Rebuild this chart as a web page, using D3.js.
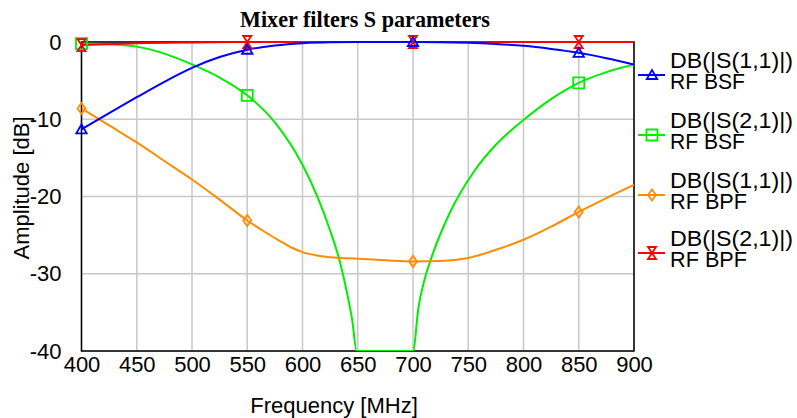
<!DOCTYPE html>
<html>
<head>
<meta charset="utf-8">
<script src="https://cdn.jsdelivr.net/npm/d3@7"></script>
<style>
  html, body { margin: 0; padding: 0; background: #fff; }
  svg { display: block; }
  text { font-family: "Liberation Sans", Arial, sans-serif; fill: #000; }
</style>
</head>
<body>
<svg id="chart" width="797" height="418"></svg>
<script>
// ---------- data ----------
const title = "Mixer filters S parameters";
const xLabel = "Frequency [MHz]";
const yLabel = "Amplitude [dB]";
const xTicks = [400, 450, 500, 550, 600, 650, 700, 750, 800, 850, 900];
const yTicks = [0, -10, -20, -30, -40];

const s11BsfFreq = [400, 425, 450, 475, 500, 525, 550, 575, 600, 625, 650, 700, 750, 775, 800, 825, 850, 875, 900];
const s11BsfDb   = [-11.3, -9.2, -7.15, -5.15, -3.35, -1.95, -1.0, -0.45, -0.15, -0.03, 0, 0, -0.1, -0.25, -0.5, -0.9, -1.4, -2.1, -2.9];

const s21BsfFreq = [400, 425, 450, 475, 500, 525, 550, 575, 600, 614, 625, 633, 640, 645, 649, 675, 700, 705, 710, 716, 733, 756, 775, 800, 825, 850, 875, 900];
const s21BsfDb   = [-0.2, -0.3, -0.6, -1.5, -2.9, -4.6, -6.9, -10.4, -15.9, -20.2, -24.4, -28.0, -32.3, -36.0, -40, -40, -40, -34.3, -31.0, -28.2, -22.2, -16.6, -13.3, -10.1, -7.4, -5.3, -3.9, -2.9];

const s11BpfFreq = [400, 425, 450, 475, 500, 525, 550, 565, 580, 590, 600, 612, 625, 650, 675, 700, 725, 750, 775, 800, 825, 850, 875, 900];
const s11BpfDb   = [-8.6, -10.8, -13.0, -15.4, -17.8, -20.4, -23.1, -24.5, -25.8, -26.6, -27.2, -27.6, -27.85, -28.05, -28.25, -28.4, -28.35, -27.95, -26.9, -25.6, -23.9, -22.0, -20.2, -18.5];

const s21BpfFreq = [400, 450, 500, 550, 600, 650, 700, 750, 800, 850, 900];
const s21BpfDb   = [-0.4, -0.15, -0.05, 0, 0, 0, 0, 0, 0, 0, 0];

const s11BsfMarkers = [400, 550, 700, 850];
const s21BsfMarkers = [400, 550, 850];
const s11BpfMarkers = [400, 550, 700, 850];
const s21BpfMarkers = [400, 550, 700, 850];

const seriesNames = [
  ["DB(|S(1,1)|)", "RF BSF"],
  ["DB(|S(2,1)|)", "RF BSF"],
  ["DB(|S(1,1)|)", "RF BPF"],
  ["DB(|S(2,1)|)", "RF BPF"]
];

// ---------- styles ----------
const colors = ["#0000ff", "#00ee00", "#ff8c00", "#ff0000"];
const markerPaths = [
  "M0,-5L5.2,4L-5.2,4Z",                   // triangle up
  "M-5.5,-5.5L5.5,-5.5L5.5,5.5L-5.5,5.5Z", // square
  "M0,-5.5L4,0L0,5.5L-4,0Z",               // diamond
  "M-4,-6L4,-6L0,0L4,6L-4,6L0,0Z"          // hourglass
];

const series = [
  { f: s11BsfFreq, v: s11BsfDb, m: s11BsfMarkers },
  { f: s21BsfFreq, v: s21BsfDb, m: s21BsfMarkers },
  { f: s11BpfFreq, v: s11BpfDb, m: s11BpfMarkers },
  { f: s21BpfFreq, v: s21BpfDb, m: s21BpfMarkers }
].map((s, i) => ({
  points: s.f.map((f, j) => ({ f, v: s.v[j] })),
  markers: s.m.map(f => ({ f, v: s.v[s.f.indexOf(f)] })),
  color: colors[i],
  marker: markerPaths[i],
  name: seriesNames[i]
}));

// ---------- layout ----------
const svg = d3.select("#chart");
const pLeft = 81.5, pRight = 634, pTop = 42, pBottom = 351;

const x = d3.scaleLinear().domain([400, 900]).range([pLeft, pRight]);
const y = d3.scaleLinear().domain([-40, 0]).range([pBottom, pTop]);

// grid
const grid = svg.append("g");
grid.selectAll("line.v").data(xTicks).join("line")
  .attr("x1", d => x(d)).attr("x2", d => x(d))
  .attr("y1", pTop).attr("y2", pBottom)
  .attr("stroke", "#c8c8c8").attr("stroke-width", 1.5);
grid.selectAll("line.h").data(yTicks).join("line")
  .attr("x1", pLeft).attr("x2", pRight)
  .attr("y1", d => y(d)).attr("y2", d => y(d))
  .attr("stroke", "#c8c8c8").attr("stroke-width", 1.5);

// frame
svg.append("rect")
  .attr("x", pLeft).attr("y", pTop)
  .attr("width", pRight - pLeft).attr("height", pBottom - pTop)
  .attr("fill", "none").attr("stroke", "#000").attr("stroke-width", 1.5);

// axes
const xAxis = svg.append("g")
  .attr("transform", `translate(0,${pBottom})`)
  .call(d3.axisBottom(x).tickValues(xTicks).tickSize(0).tickPadding(5).tickFormat(d => String(d)));
xAxis.select(".domain").remove();
xAxis.selectAll("text").style("font-size", "22px").attr("font-family", "Liberation Sans, Arial, sans-serif");

const yAxis = svg.append("g")
  .attr("transform", `translate(${pLeft},0)`)
  .call(d3.axisLeft(y).tickValues(yTicks).tickSize(0).tickPadding(20).tickFormat(d => String(d)));
yAxis.select(".domain").remove();
yAxis.selectAll("text").style("font-size", "22px").attr("font-family", "Liberation Sans, Arial, sans-serif");

// titles
svg.append("text")
  .attr("x", 365).attr("y", 27)
  .attr("text-anchor", "middle")
  .style("font-family", "'Liberation Serif', 'Times New Roman', serif")
  .style("font-weight", "bold")
  .style("font-size", "24px")
  .attr("textLength", 250).attr("lengthAdjust", "spacingAndGlyphs")
  .text(title);

svg.append("text")
  .attr("x", 334).attr("y", 413)
  .attr("text-anchor", "middle")
  .style("font-size", "22px")
  .text(xLabel);

svg.append("text")
  .attr("transform", "translate(29,188) rotate(-90)")
  .attr("text-anchor", "middle")
  .style("font-size", "22px")
  .text(yLabel);

// clip
svg.append("clipPath").attr("id", "plotclip")
  .append("rect").attr("x", pLeft).attr("y", pTop - 2)
  .attr("width", pRight - pLeft).attr("height", pBottom - pTop + 2);

const line = d3.line()
  .x(d => x(d.f)).y(d => y(d.v))
  .curve(d3.curveMonotoneX);

const plot = svg.append("g");
const drawOrder = [1, 2, 3, 0];
drawOrder.forEach(i => {
  const s = series[i];
  plot.append("path")
    .datum(s.points)
    .attr("clip-path", "url(#plotclip)")
    .attr("fill", "none")
    .attr("stroke", s.color)
    .attr("stroke-width", 2)
    .attr("d", line);
});
drawOrder.forEach(i => {
  const s = series[i];
  plot.selectAll(null).data(s.markers).join("path")
    .attr("transform", d => `translate(${x(d.f)},${y(d.v)})`)
    .attr("d", s.marker)
    .attr("fill", "none")
    .attr("stroke", s.color)
    .attr("stroke-width", 1.8);
});

// legend
const legend = svg.append("g");
const legendY = [75, 135, 195, 253];
series.forEach((s, i) => {
  const g = legend.append("g").attr("transform", `translate(0,${legendY[i]})`);
  g.append("line").attr("x1", 638).attr("x2", 665).attr("y1", 0).attr("y2", 0)
    .attr("stroke", s.color).attr("stroke-width", 2);
  g.append("path").attr("transform", "translate(652,0)").attr("d", s.marker)
    .attr("fill", "none").attr("stroke", s.color).attr("stroke-width", 1.8);
  g.append("text").attr("x", 670).attr("y", -7).style("font-size", "22px")
    .attr("textLength", 123).attr("lengthAdjust", "spacingAndGlyphs").text(s.name[0]);
  g.append("text").attr("x", 670).attr("y", 14).style("font-size", "22px")
    .attr("textLength", s.name[1] === "RF BSF" ? 75 : 77).attr("lengthAdjust", "spacingAndGlyphs").text(s.name[1]);
});
</script>
</body>
</html>
